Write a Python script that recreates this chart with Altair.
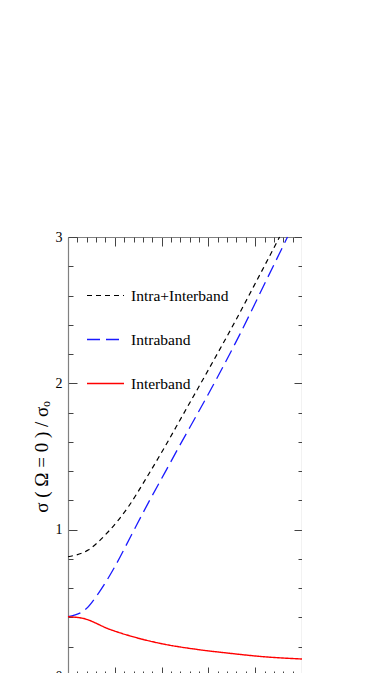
import altair as alt
import pandas as pd

# ---- data ----
series_names = ["Intra+Interband", "Intraband", "Interband"]

total_x = [0.0, 0.43, 0.86, 1.29, 1.65, 2.04, 2.43, 2.89, 3.60, 4.03, 4.52]
total_y = [0.815, 0.861, 0.986, 1.157, 1.34, 1.55, 1.77, 2.03, 2.44, 2.70, 3.0]

intra_x = [0.0, 0.36, 0.65, 1.0, 1.35, 1.71, 2.07, 2.43, 2.78, 3.14, 3.68, 4.17, 4.69]
intra_y = [0.405, 0.451, 0.565, 0.747, 0.96, 1.18, 1.39, 1.60, 1.80, 2.01, 2.34, 2.66, 3.0]

inter_x = [0.0, 0.32, 0.89, 1.46, 2.03, 2.75, 3.46, 4.17, 5.0]
inter_y = [0.405, 0.394, 0.319, 0.262, 0.219, 0.182, 0.155, 0.132, 0.116]

x_major = [0, 1, 2, 3, 4, 5]
x_minor = [round(i * 0.2, 1) for i in range(26) if i % 5 != 0]
y_major = [0, 1, 2, 3]
y_minor = [round(i * 0.2, 1) for i in range(16) if i % 5 != 0]

rows = []
for name, xs, ys in [(series_names[0], total_x, total_y),
                     (series_names[1], intra_x, intra_y),
                     (series_names[2], inter_x, inter_y)]:
    for i, (a, b) in enumerate(zip(xs, ys)):
        rows.append({"series": name, "x": a, "y": b, "order": i})
df = pd.DataFrame(rows)

W, H = 234, 439
xscale = alt.Scale(domain=[0, 5], nice=False, zero=False)
yscale = alt.Scale(domain=[0, 3], nice=False, zero=False)

DOM = "#808080"
TCK = "#444444"


def ax(orient, values, size, domain, offset=0, **kw):
    return alt.Axis(orient=orient, values=values, tickSize=size, domain=domain,
                    offset=offset, labels=False, grid=False, title=None,
                    domainColor=DOM, tickColor=TCK, domainWidth=1.2, tickWidth=1, **kw)


leg = alt.Legend(orient="none", legendX=18, legendY=39, title=None,
                 symbolType="stroke", symbolSize=1369, labelFont="Liberation Sans Narrow",
                 labelFontSize=15.5, labelColor="#000000", rowPadding=16,
                 labelOffset=6, padding=0)

lines = alt.Chart(df).mark_line(interpolate="monotone").encode(
    x=alt.X("x:Q", scale=xscale, axis=ax("bottom", x_major, 9, True, -H)),
    y=alt.Y("y:Q", scale=yscale, axis=ax("right", y_major, 9, True, -W)),
    color=alt.Color("series:N", sort=series_names,
                    scale=alt.Scale(domain=series_names, range=["#000000", "#1a1aff", "#ff0000"]),
                    legend=leg),
    strokeDash=alt.StrokeDash("series:N", sort=series_names,
                              scale=alt.Scale(domain=series_names, range=[[5, 4], [13, 6], [1, 0]]),
                              legend=leg),
    strokeWidth=alt.StrokeWidth("series:N", sort=series_names,
                                scale=alt.Scale(domain=series_names, range=[1.2, 1.4, 1.8]),
                                legend=leg),
    order="order:Q",
)


def dummy(xaxis, yaxis):
    return alt.Chart(df).mark_point(opacity=0).encode(
        x=alt.X("x:Q", scale=xscale, axis=xaxis),
        y=alt.Y("y:Q", scale=yscale, axis=yaxis),
    )


l2 = dummy(ax("bottom", x_minor, 5, False, -H), ax("right", y_minor, 5, False, -W))
l3 = dummy(ax("top", x_major, 9, True, -H), ax("left", y_major, 8, True, -W))
l4 = dummy(ax("top", x_minor, 5, False, -H), ax("left", y_minor, 4, False, -W))
l5 = dummy(
    ax("top", x_major, 0, False, -H),
    alt.Axis(orient="left", values=y_major, tickSize=0, domain=False, grid=False,
             labelFont="Liberation Sans Narrow", labelFontSize=14, labelColor="#000000",
             labelPadding=6, format="d",
             title="σ ( Ω = 0 ) / σₒ", titleFont="Liberation Serif", titleFontSize=19,
             titleFontWeight="normal", titleColor="#000000", titlePadding=4),
)

chart = alt.layer(lines, l2, l3, l4, l5).resolve_axis(
    x="independent", y="independent"
).properties(
    width=W, height=H,
    autosize=alt.AutoSizeParams(type="none"),
    padding={"left": 60, "top": 229, "right": 0, "bottom": 0},
).configure_view(stroke=None)

chart.save("out.html", embed_options={"renderer": "svg", "actions": False})
